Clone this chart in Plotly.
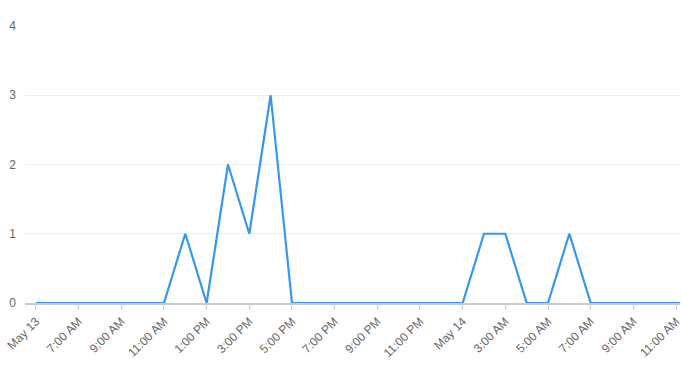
import plotly.graph_objects as go
import pandas as pd

times = pd.date_range("2024-05-13 05:00", "2024-05-14 12:00", freq="h")
values = [0, 0, 0, 0, 0, 0, 0, 1, 0, 2, 1, 3, 0, 0, 0, 0, 0, 0, 0, 0, 0,
          1, 1, 0, 0, 1, 0, 0, 0, 0, 0, 0]

tick_vals = pd.date_range("2024-05-13 05:00", "2024-05-14 11:00", freq="2h")
tick_text = ["May 13", "7:00 AM", "9:00 AM", "11:00 AM", "1:00 PM", "3:00 PM",
             "5:00 PM", "7:00 PM", "9:00 PM", "11:00 PM", "May 14", "3:00 AM",
             "5:00 AM", "7:00 AM", "9:00 AM", "11:00 AM"]

fig = go.Figure()
fig.add_trace(go.Scatter(
    x=times, y=values, mode="lines",
    line=dict(color="#3797ea", width=2.2),
    hoverinfo="skip",
))

x0 = pd.Timestamp("2024-05-13 05:00") - pd.Timedelta(minutes=30.8)
x1 = pd.Timestamp("2024-05-14 11:00") + pd.Timedelta(minutes=11.2)

fig.update_layout(
    width=682, height=368,
    margin=dict(l=25, r=0, t=26, b=65),
    paper_bgcolor="white", plot_bgcolor="white",
    showlegend=False,
    font=dict(family="Liberation Sans, Arial, sans-serif", size=12, color="#666666"),
    xaxis=dict(
        range=[x0, x1],
        tickmode="array", tickvals=tick_vals, ticktext=tick_text,
        tickangle=-45,
        showgrid=False,
        showline=True, linecolor="#cccccc", linewidth=1.5,
        ticks="outside", ticklen=5, tickcolor="#cccccc", tickwidth=1,
        zeroline=False,
        ticklabeloverflow="allow",
        tickfont=dict(size=12, color="#666666"),
    ),
    yaxis=dict(
        range=[0, 4],
        tickvals=[0, 1, 2, 3, 4],
        showgrid=True, gridcolor="#eeeeee", gridwidth=1,
        zeroline=False, showline=False, ticks="",
        tickfont=dict(size=12, color="#666666"),
        ticklabelstandoff=8,
    ),
)

fig.write_html("out.html")
